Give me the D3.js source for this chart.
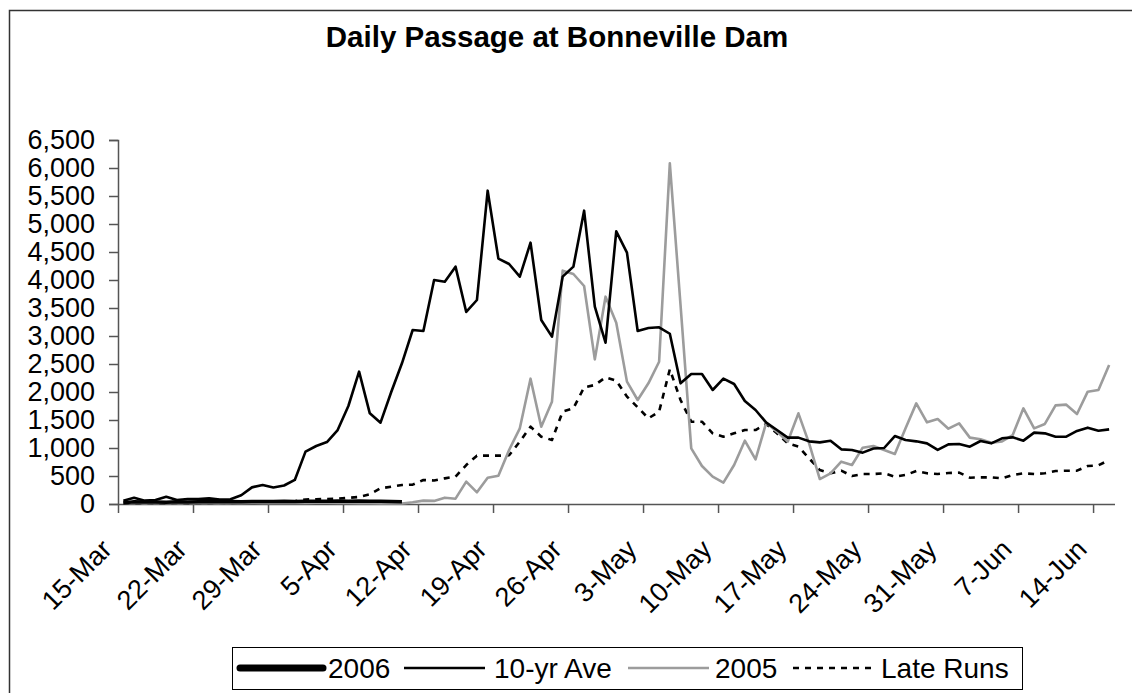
<!DOCTYPE html>
<html>
<head>
<meta charset="utf-8">
<script src="https://cdn.jsdelivr.net/npm/d3@7"></script>
<style>
  body { margin: 0; background: #fff; }
  text { font-family: "Liberation Sans", Arial, sans-serif; }
</style>
</head>
<body>
<script>
// ---- data, one value per day from 15-Mar ----
var tickLabels = ["15-Mar","22-Mar","29-Mar","5-Apr","12-Apr","19-Apr","26-Apr",
                  "3-May","10-May","17-May","24-May","31-May","7-Jun","14-Jun"];

var avg10yr = [60,112,60,70,130,70,90,90,100,80,85,155,297,340,296,330,430,935,1036,1107,
               1320,1750,2363,1619,1452,2000,2512,3107,3089,4000,3970,4238,3429,3643,5595,4381,4286,4060,4667,3286,
               2988,4060,4238,5238,3524,2881,4869,4488,3089,3143,3155,3040,2155,2321,2321,2036,2238,2143,1839,1679,
               1452,1321,1185,1185,1119,1101,1130,976,965,917,990,1000,1214,1143,1119,1083,965,1065,1071,1024,
               1125,1083,1173,1190,1131,1274,1262,1202,1202,1304,1363,1309,1333];

var run2005 = [20,25,15,20,20,15,20,20,20,15,20,20,25,20,20,20,25,20,25,25,
               20,20,15,15,10,10,10,30,60,55,113,95,399,208,470,506,964,1351,2238,1381,
               1827,4167,4107,3893,2583,3702,3238,2185,1857,2155,2541,6083,3550,994,679,488,381,696,1131,798,
               1452,1292,1113,1619,1083,446,548,756,696,1006,1036,964,893,1351,1797,1458,1518,1345,1440,1185,
               1155,1095,1119,1232,1708,1351,1429,1762,1774,1607,2006,2036,2482];

var lateRuns = [15,15,15,15,15,15,15,20,20,20,20,25,25,30,30,35,50,80,85,90,
                95,110,125,172,280,310,339,345,429,420,458,488,696,863,863,863,870,1113,1381,1202,
                1143,1649,1708,2083,2125,2262,2202,1917,1726,1530,1649,2405,1857,1470,1470,1262,1202,1262,1321,1321,
                1429,1262,1083,1024,815,607,548,595,500,536,536,548,488,518,589,548,536,554,560,470,
                476,476,458,518,548,536,548,589,595,595,679,690,786];

var run2006 = [20,40,35,35,30,40,35,40,40,40,45,40,45,45,45,50,45,50,50,50,
               55,50,55,50,50,45,40];

var yTicks = d3.range(0, 6501, 500);

function main(){
    var width = 1132, height = 693;

    var svg = d3.select("body").append("svg")
        .attr("width", width)
        .attr("height", height);

    svg.append("rect").attr("width", width).attr("height", height).attr("fill", "#fff");

    // outer chart frame (right/bottom run off the picture)
    svg.append("rect")
        .attr("x", 9.5).attr("y", 10.5)
        .attr("width", 1140).attr("height", 700)
        .attr("fill", "none").attr("stroke", "#333").attr("stroke-width", 1.5);

    svg.append("text")
        .attr("x", 557).attr("y", 47)
        .attr("text-anchor", "middle")
        .attr("font-size", "29.5px").attr("font-weight", "bold")
        .text("Daily Passage at Bonneville Dam");

    var n = avg10yr.length;
    var xScale = d3.scaleLinear().domain([-0.5, n - 0.5]).range([118, 1114.5]);
    var yScale = d3.scaleLinear().domain([0, 6500]).range([504, 140]);

    // y axis
    var yAxis = svg.append("g")
        .attr("transform", "translate(118,0)")
        .call(d3.axisLeft(yScale).tickValues(yTicks).tickFormat(d3.format(",")).tickSize(9).tickPadding(14));
    yAxis.selectAll("text").attr("font-size", "27px").attr("fill", "#000")
        .style("font-family", "'Liberation Sans', Arial, sans-serif");

    // x axis: ticks between categories every 7 days
    var xTickVals = tickLabels.map(function(d, i){ return i * 7 - 0.5; });
    svg.append("g")
        .attr("transform", "translate(0,504)")
        .call(d3.axisBottom(xScale).tickValues(xTickVals).tickFormat("").tickSize(9).tickSizeOuter(0));

    svg.selectAll(".domain, .tick line").attr("stroke", "#555").attr("stroke-width", 1.5);

    svg.append("g").selectAll("text")
        .data(tickLabels)
        .enter().append("text")
        .attr("text-anchor", "end")
        .attr("font-size", "27px")
        .attr("transform", function(d, i){
            return "translate(" + (xScale(i * 7) - 10) + ",551) rotate(-45)";
        })
        .text(function(d){ return d; });

    var line = d3.line()
        .x(function(d, i){ return xScale(i); })
        .y(function(d){ return yScale(d); });

    var series = [
        {name: "Late Runs", values: lateRuns, color: "#000", w: 2.6, lw: 2.6, dash: "6,6"},
        {name: "2005", values: run2005, color: "#9c9c9c", w: 2.6, lw: 2.6, dash: null},
        {name: "10-yr Ave", values: avg10yr, color: "#000", w: 2.6, lw: 2.6, dash: null},
        {name: "2006", values: run2006, color: "#000", w: 3.5, lw: 7, dash: null}
    ];

    svg.append("g").selectAll("path")
        .data(series)
        .enter().append("path")
        .attr("d", function(d){ return line(d.values); })
        .attr("fill", "none")
        .attr("stroke", function(d){ return d.color; })
        .attr("stroke-width", function(d){ return d.w; })
        .attr("stroke-dasharray", function(d){ return d.dash; })
        .attr("stroke-linejoin", "round");

    // legend
    var legend = svg.append("g");
    legend.append("rect")
        .attr("x", 232.5).attr("y", 647.5)
        .attr("width", 790).attr("height", 42)
        .attr("fill", "#fff").attr("stroke", "#000").attr("stroke-width", 1);

    var legendItems = [
        {s: series[3], x0: 240, x1: 323, tx: 328},
        {s: series[2], x0: 404, x1: 485, tx: 494},
        {s: series[1], x0: 628, x1: 709, tx: 715},
        {s: series[0], x0: 793, x1: 877, tx: 881}
    ];
    legendItems.forEach(function(it){
        legend.append("line")
            .attr("x1", it.x0).attr("x2", it.x1)
            .attr("y1", 668).attr("y2", 668)
            .attr("stroke", it.s.color)
            .attr("stroke-width", it.s.lw)
            .attr("stroke-linecap", it.s.lw > 4 ? "round" : "butt")
            .attr("stroke-dasharray", it.s.dash);
        legend.append("text")
            .attr("x", it.tx).attr("y", 678)
            .attr("font-size", "28px")
            .text(it.s.name);
    });
}
main();
</script>
</body>
</html>
